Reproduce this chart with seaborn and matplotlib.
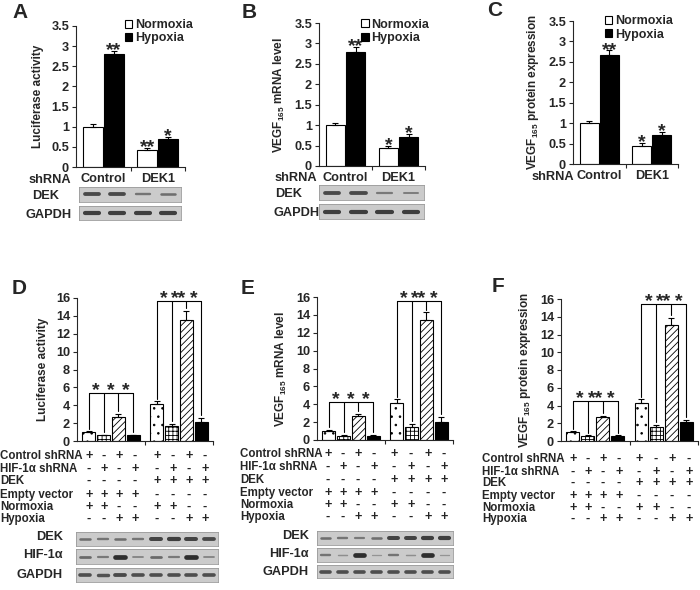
import numpy as np
import pandas as pd
import seaborn as sns
import matplotlib.pyplot as plt
from matplotlib.patches import Patch

sns.set_style('ticks')
plt.rcParams['font.family'] = ['Liberation Sans', 'DejaVu Sans']
plt.rcParams['font.weight'] = 'bold'
plt.rcParams['axes.labelweight'] = 'bold'
plt.rcParams['mathtext.fontset'] = 'custom'
plt.rcParams['mathtext.rm'] = 'Liberation Sans:bold'
plt.rcParams['mathtext.bf'] = 'Liberation Sans:bold'
plt.rcParams['mathtext.default'] = 'bf'
plt.rcParams['hatch.linewidth'] = 0.6

# --- top row (A-C): shRNA x oxygen, order Control N, Control H, DEK1 N, DEK1 H
shrna = ['Control', 'DEK1']
oxygen = ['Normoxia', 'Hypoxia']
luc_a = [1.0, 2.8, 0.42, 0.70]
luc_a_err = [0.06, 0.08, 0.05, 0.05]
luc_a_sig = ['', '**', '**', '*']
mrna_b = [1.0, 2.8, 0.43, 0.72]
mrna_b_err = [0.06, 0.12, 0.06, 0.06]
mrna_b_sig = ['', '**', '*', '*']
prot_c = [1.0, 2.68, 0.45, 0.72]
prot_c_err = [0.05, 0.10, 0.06, 0.06]
prot_c_sig = ['', '**', '*', '*']

# blot band strengths (0-1), lanes in the same order
blot_a_dek = [0.75, 0.75, 0.35, 0.4]
blot_a_gapdh = [0.85, 0.85, 0.85, 0.85]
blot_b_dek = [0.75, 0.75, 0.3, 0.25]
blot_b_gapdh = [0.85, 0.85, 0.85, 0.85]

# --- bottom row (D-F): vector group x 4 treatments
vector = ['Empty vector', 'DEK']
treat = ['Control shRNA/Normoxia', 'HIF-1α shRNA/Normoxia', 'Control shRNA/Hypoxia', 'HIF-1α shRNA/Hypoxia']
luc_d = [1.0, 0.65, 2.7, 0.65, 4.1, 1.65, 13.5, 2.15]
luc_d_err = [0.08, 0.05, 0.35, 0.05, 0.35, 0.3, 1.1, 0.45]
mrna_e = [1.0, 0.5, 2.65, 0.5, 4.1, 1.5, 13.4, 2.05]
mrna_e_err = [0.1, 0.05, 0.3, 0.05, 0.45, 0.3, 0.9, 0.55]
prot_f = [1.0, 0.55, 2.65, 0.55, 4.25, 1.55, 13.1, 2.15]
prot_f_err = [0.1, 0.08, 0.2, 0.08, 0.45, 0.25, 0.8, 0.2]
sig_d = [['*', '*', '*'], ['*', '**', '*']]
sig_e = [['*', '*', '*'], ['*', '**', '*']]
sig_f = [['*', '**', '*'], ['*', '**', '*']]
bracket_d = [5.4, 15.7]
bracket_e = [4.3, 15.5]
bracket_f = [4.5, 15.4]

row_names = ['Control shRNA', 'HIF-1α shRNA', 'DEK', 'Empty vector', 'Normoxia', 'Hypoxia']
row_signs = [
    ['+', '-', '+', '-', '+', '-', '+', '-'],
    ['-', '+', '-', '+', '-', '+', '-', '+'],
    ['-', '-', '-', '-', '+', '+', '+', '+'],
    ['+', '+', '+', '+', '-', '-', '-', '-'],
    ['+', '+', '-', '-', '+', '+', '-', '-'],
    ['-', '-', '+', '+', '-', '-', '+', '+'],
]

blot_d_dek = [0.4, 0.35, 0.4, 0.35, 0.8, 0.85, 0.8, 0.75]
blot_d_hif = [0.45, 0.3, 1.0, 0.2, 0.45, 0.3, 1.0, 0.2]
blot_d_gapdh = [0.7, 0.65, 0.75, 0.7, 0.7, 0.7, 0.7, 0.7]
blot_e_dek = [0.4, 0.35, 0.3, 0.4, 0.8, 0.8, 0.85, 0.85]
blot_e_hif = [0.35, 0.1, 1.0, 0.05, 0.35, 0.1, 1.0, 0.05]
blot_e_gapdh = [0.7, 0.7, 0.7, 0.7, 0.7, 0.7, 0.7, 0.7]

W, H = 700, 590
fig = plt.figure(figsize=(7, 5.9), dpi=100)
FS = 8.5
TFS = 9.2
RFS = 8.3


def rect(x0, y0, x1, y1):
    return [x0 / W, 1 - y1 / H, (x1 - x0) / W, (y1 - y0) / H]


def ftext(x, y, s, **kw):
    kw.setdefault('fontsize', FS)
    kw.setdefault('fontweight', 'bold')
    kw.setdefault('va', 'center')
    fig.text(x / W, 1 - y / H, s, **kw)


def star(ax, x, y, s, dy=-3):
    ax.annotate(s, xy=(x, y), xytext=(0, dy), textcoords='offset points',
                ha='center', va='baseline', fontsize=14, fontweight='bold',
                annotation_clip=False)


def style_axis(ax, ymax, step):
    sns.despine(ax=ax)
    for sp in ['left', 'bottom']:
        ax.spines[sp].set_linewidth(0.8)
    ax.set_ylim(0, ymax)
    ticks = np.arange(0, ymax + step / 2, step)
    ax.set_yticks(ticks, [f'{t:g}' for t in ticks])
    ax.set_xlim(-0.5, 1.5)
    ax.set_xticks([0.5, 1.5], minor=True)
    ax.tick_params(axis='x', which='minor', length=3, width=0.8, direction='out')
    ax.tick_params(axis='y', length=3, width=0.8, labelsize=TFS, pad=2)
    ax.tick_params(axis='x', which='major', length=0, labelsize=TFS, pad=4)
    ax.set_xlabel('')


def errs(ax, xs, vals, es):
    ax.errorbar(xs, vals, yerr=[np.zeros(len(es)), es], fmt='none', ecolor='black',
                elinewidth=0.8, capsize=2.5, capthick=0.8, zorder=3)


def top_panel(box, vals, es, sig, ylabel, letter, lxy, legend_anchor, sh_xy):
    ax = fig.add_axes(rect(*box))
    df = pd.DataFrame({'shRNA': np.repeat(shrna, 2), 'cond': oxygen * 2, 'val': vals})
    sns.barplot(df, x='shRNA', y='val', hue='cond', order=shrna, hue_order=oxygen,
                palette=['white', 'black'], saturation=1, edgecolor='black', linewidth=0.8,
                width=0.76, gap=0.03, errorbar=None, legend=False, ax=ax)
    xs = np.zeros(4)
    for i, cont in enumerate(ax.containers):
        for j, bar in enumerate(cont):
            xs[j * 2 + i] = bar.get_x() + bar.get_width() / 2
    errs(ax, xs, vals, es)
    for x, v, e, s in zip(xs, vals, es, sig):
        if s:
            star(ax, x, v + e, s)
    style_axis(ax, 3.5, 0.5)
    ax.set_ylabel(ylabel, fontsize=FS, labelpad=5)
    ftext(sh_xy[0], sh_xy[1], 'shRNA', ha='right', fontsize=TFS)
    handles = [Patch(facecolor='white', edgecolor='black', linewidth=0.8),
               Patch(facecolor='black', edgecolor='black', linewidth=0.8)]
    ax.legend(handles, oxygen, loc='upper right', bbox_to_anchor=legend_anchor, frameon=False,
              fontsize=FS + 0.5, handlelength=0.6, handleheight=0.6, handletextpad=0.2,
              labelspacing=0.1, borderpad=0, borderaxespad=0)
    ftext(lxy[0], lxy[1], letter, fontsize=15)
    return ax


def bottom_panel(box, vals, es, sigs, brackets, ylabel, letter, lxy, table_x, cols, rows_y):
    ax = fig.add_axes(rect(*box))
    df = pd.DataFrame({'vector': np.repeat(vector, 4), 'treat': treat * 2, 'val': vals})
    sns.barplot(df, x='vector', y='val', hue='treat', order=vector, hue_order=treat,
                palette=['white', 'white', 'white', 'black'], saturation=1, edgecolor='black',
                linewidth=0.8, width=0.88, gap=0.14, errorbar=None, legend=False, ax=ax)
    hatches = ['..', '++++', '/////', None]
    xs = np.zeros(8)
    for i, cont in enumerate(ax.containers):
        for j, bar in enumerate(cont):
            bar.set_hatch(hatches[i])
            xs[j * 4 + i] = bar.get_x() + bar.get_width() / 2
    errs(ax, xs, vals, es)
    for g in range(2):
        idx = range(g * 4, g * 4 + 4)
        L = brackets[g]
        ax.plot([xs[idx[0]], xs[idx[-1]]], [L, L], color='black', lw=0.8, clip_on=False)
        for k in idx:
            ax.plot([xs[k], xs[k]], [L, vals[k] + es[k] + 0.3], color='black', lw=0.8,
                    clip_on=False)
        for k, s in enumerate(sigs[g]):
            xm = (xs[idx[k]] + xs[idx[k + 1]]) / 2
            star(ax, xm, L, s, dy=-1.5)
    style_axis(ax, 16, 2)
    ax.set_xticks([0, 1], ['', ''])
    ax.set_ylabel(ylabel, fontsize=FS, labelpad=5)
    ftext(lxy[0], lxy[1], letter, fontsize=15)
    for name, signs, y in zip(row_names, row_signs, rows_y):
        ftext(table_x, y, name, ha='left', fontsize=RFS)
        for cx, s in zip(cols, signs):
            ftext(cx, y, s, ha='center', fontsize=TFS)
    return ax


def blot(box, bands):
    ax = fig.add_axes(rect(*box))
    ax.set_facecolor('#cbcbcb')
    n = len(bands)
    for i, b in enumerate(bands):
        ax.plot([i - 0.28, i + 0.28], [0, 0], color=str(0.6 - 0.42 * b),
                lw=0.8 + 2.6 * b, solid_capstyle='round')
    ax.set_xlim(-0.5, n - 0.5)
    ax.set_ylim(-1, 1)
    ax.set_xticks([])
    ax.set_yticks([])
    for sp in ax.spines.values():
        sp.set_color('#9a9a9a')
        sp.set_linewidth(0.6)


vegf = r'VEGF$_{165}$'
top_panel((76, 26, 185, 167), luc_a, luc_a_err, luc_a_sig, 'Luciferase activity', 'A',
          (12, 12), (1.07, 1.05), (71, 180))
top_panel((319, 23, 425, 166), mrna_b, mrna_b_err, mrna_b_sig, vegf + ' mRNA level', 'B',
          (242, 12), (1.04, 1.03), (317, 178))
top_panel((573, 21, 678, 164), prot_c, prot_c_err, prot_c_sig, vegf + ' protein expression',
          'C', (487, 10), (0.95, 1.04), (574, 177))

blot((79, 187, 181, 202), blot_a_dek)
blot((79, 206, 181, 220), blot_a_gapdh)
ftext(32, 196, 'DEK', ha='left', fontsize=TFS)
ftext(25, 215, 'GAPDH', ha='left', fontsize=TFS)
blot((319, 185, 424, 200), blot_b_dek)
blot((319, 204, 424, 219), blot_b_gapdh)
ftext(275, 194, 'DEK', ha='left', fontsize=TFS)
ftext(273, 213, 'GAPDH', ha='left', fontsize=TFS)

bottom_panel((77, 298, 213, 441), luc_d, luc_d_err, sig_d, bracket_d, 'Luciferase activity',
             'D', (12, 288), 0, [89, 104, 119, 135, 157, 173, 189, 205],
             [456, 469, 481, 495, 507, 519])
bottom_panel((317, 297, 453, 440), mrna_e, mrna_e_err, sig_e, bracket_e, vegf + ' mRNA level',
             'E', (241, 288), 240, [328, 343, 358, 374, 394, 411, 428, 444],
             [454, 467, 480, 493, 505, 517])
bottom_panel((561, 299, 698, 441), prot_f, prot_f_err, sig_f, bracket_f,
             vegf + ' protein expression', 'F', (492, 287), 482,
             [573, 588, 603, 619, 639, 656, 672, 689], [459, 472, 483, 496, 508, 519])

blot((76, 532, 218, 546), blot_d_dek)
blot((76, 549, 218, 564), blot_d_hif)
blot((76, 568, 218, 582), blot_d_gapdh)
ftext(63, 537, 'DEK', ha='right', fontsize=TFS)
ftext(63, 555, 'HIF-1α', ha='right', fontsize=TFS)
ftext(63, 575, 'GAPDH', ha='right', fontsize=TFS)
blot((317, 531, 453, 545), blot_e_dek)
blot((317, 548, 453, 562), blot_e_hif)
blot((317, 565, 453, 578), blot_e_gapdh)
ftext(309, 536, 'DEK', ha='right', fontsize=TFS)
ftext(309, 554, 'HIF-1α', ha='right', fontsize=TFS)
ftext(309, 572, 'GAPDH', ha='right', fontsize=TFS)

fig.savefig('out.png', dpi=100)
